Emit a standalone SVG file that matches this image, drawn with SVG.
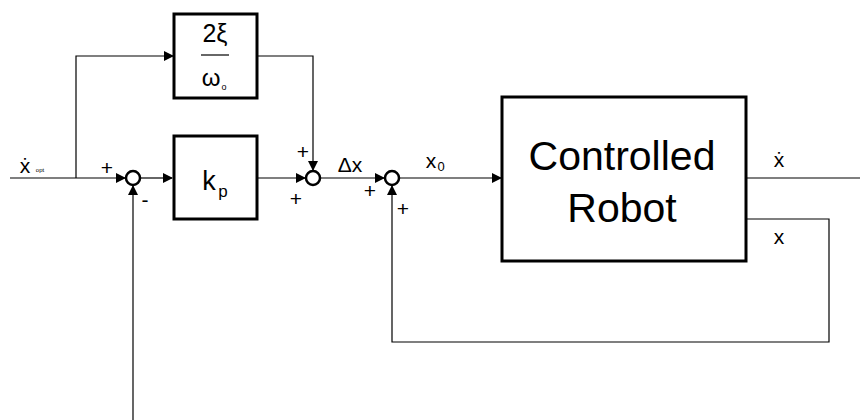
<svg xmlns="http://www.w3.org/2000/svg" width="860" height="420" viewBox="0 0 860 420">
<style>
.ln{fill:none;stroke:#000;stroke-width:1.2}
.box{fill:#fff;stroke:#000;stroke-width:3}
.sj{fill:#fff;stroke:#000;stroke-width:2.5}
text{font-family:"Liberation Sans",Arial,sans-serif;fill:#000}
.lb{font-size:21px}
.sg{font-size:21px}
</style>
<defs>
<marker id="ah" markerWidth="10" markerHeight="10" refX="9" refY="5" orient="auto" markerUnits="userSpaceOnUse">
<path d="M0,0 L10,5 L0,10 Z" fill="#000"/>
</marker>
</defs>
<rect width="860" height="420" fill="#fff"/>
<g id="connectors">
<path class="ln" d="M10,178 H125" marker-end="url(#ah)"/>
<path class="ln" d="M76,178 V56 H173" marker-end="url(#ah)"/>
<path class="ln" d="M140,178 H172" marker-end="url(#ah)"/>
<path class="ln" d="M133,420 V186" marker-end="url(#ah)"/>
<path class="ln" d="M257,178 H305" marker-end="url(#ah)"/>
<path class="ln" d="M257,56 H313 V170" marker-end="url(#ah)"/>
<path class="ln" d="M320,178 H384" marker-end="url(#ah)"/>
<path class="ln" d="M399,178 H501" marker-end="url(#ah)"/>
<path class="ln" d="M746,178 H860"/>
<path class="ln" d="M746,219 H829 V342 H392 V186" marker-end="url(#ah)"/>
</g>
<g id="gain2xi">
<rect class="box" x="174" y="14" width="83" height="84"/>
<text x="215" y="42" font-size="25" text-anchor="middle">2ξ</text>
<line x1="201" y1="55" x2="229" y2="55" stroke="#000" stroke-width="1.2"/>
<text x="211" y="86" font-size="24" text-anchor="middle">ω</text>
<text x="224" y="90" font-size="9" text-anchor="middle">o</text>
</g>
<g id="gainkp">
<rect class="box" x="174" y="136" width="83" height="83"/>
<text x="209" y="190" font-size="27" text-anchor="middle">k</text>
<text x="223" y="197" font-size="17" text-anchor="middle">p</text>
</g>
<g id="sum1">
<circle class="sj" cx="133" cy="178" r="7"/>
<text class="sg" x="107" y="175" text-anchor="middle">+</text>
<text class="sg" x="145" y="207" text-anchor="middle">-</text>
</g>
<g id="sum2">
<circle class="sj" cx="313" cy="178" r="7"/>
<text class="sg" x="303" y="159" text-anchor="middle">+</text>
<text class="sg" x="296" y="206" text-anchor="middle">+</text>
</g>
<g id="sum3">
<circle class="sj" cx="392" cy="178" r="7"/>
<text class="sg" x="370" y="198" text-anchor="middle">+</text>
<text class="sg" x="403" y="216" text-anchor="middle">+</text>
</g>
<g id="robot">
<rect class="box" x="502" y="97" width="244" height="164"/>
<text x="622" y="170" font-size="41" text-anchor="middle">Controlled</text>
<text x="622" y="222" font-size="41" text-anchor="middle">Robot</text>
</g>
<g id="labels">
<text class="lb" x="25" y="173" text-anchor="middle">ẋ</text>
<text x="40" y="172" font-size="6" text-anchor="middle">opt</text>
<text class="lb" x="350" y="172" text-anchor="middle">Δx</text>
<text class="lb" x="431" y="168" text-anchor="middle">x</text>
<text x="441" y="171" font-size="13" text-anchor="middle">0</text>
<text class="lb" x="779" y="167" text-anchor="middle">ẋ</text>
<text class="lb" x="779" y="244" text-anchor="middle">x</text>
</g>
</svg>
